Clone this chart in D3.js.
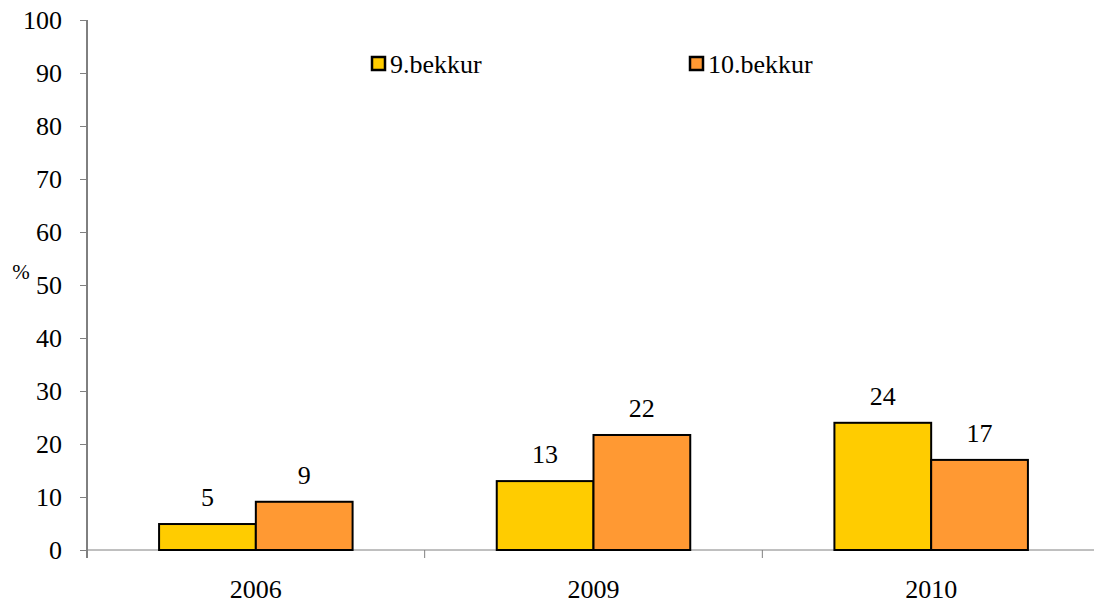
<!DOCTYPE html>
<meta charset="utf-8">
<style>
body { margin: 0; background: #fff; }
</style>
<body>
<script src="https://d3js.org/d3.v7.min.js"></script>
<script>

// data
var years = ["2006", "2009", "2010"];
var seriesNames = ["9.bekkur", "10.bekkur"];
var bekkur9 = [4.9, 13.0, 24.0];
var bekkur10 = [9.1, 21.7, 17.0];
var yTicks = [0, 10, 20, 30, 40, 50, 60, 70, 80, 90, 100];
var colors = ["#FFCC00", "#FF9933"];

var W = 1094, H = 603;
var margin = {top: 20, right: 0, bottom: 53, left: 87},
    width = 1100 - margin.left - margin.right,
    height = H - margin.top - margin.bottom;

var serif = "Liberation Serif";
var fs = 26;

var svg = d3.select("body").append("svg")
    .attr("width", W)
    .attr("height", H)
    .attr("font-family", serif)
  .append("g")
    .attr("transform", "translate(" + margin.left + "," + margin.top + ")");

var x0 = d3.scaleBand().domain(years).range([0, width]).paddingInner(0).paddingOuter(0);
var x1 = d3.scaleBand().domain(seriesNames).range([0, x0.bandwidth()]).paddingOuter(0.745).paddingInner(0);
var y = d3.scaleLinear().domain([0, 100]).range([height, 0]);

var rows = years.map(function(yr, i) {
  return {year: yr, values: [bekkur9[i], bekkur10[i]]};
});

// y axis
var yAxis = svg.append("g")
    .call(d3.axisLeft(y).tickValues(yTicks).tickSize(7).tickPadding(18))
    .attr("font-family", serif)
    .attr("font-size", fs);
yAxis.select(".domain").attr("stroke", "#000").attr("d", "M0,0V" + (height + 8));
yAxis.selectAll(".tick line").attr("stroke", "#808080");
yAxis.selectAll(".tick text")
    .attr("font-family", serif)
    .attr("font-size", fs)
    .attr("dy", "0.33em");

// x axis
var xAxis = svg.append("g")
    .attr("transform", "translate(0," + height + ")")
    .call(d3.axisBottom(x0).tickSize(0).tickPadding(30))
    .attr("font-family", serif)
    .attr("font-size", fs);
xAxis.select(".domain").attr("stroke", "#808080").attr("d", "M0,0H" + width);
xAxis.selectAll(".tick text")
    .attr("font-family", serif)
    .attr("font-size", fs);
// category separator ticks
svg.append("g").selectAll("line")
    .data(years.slice(1))
  .enter().append("line")
    .attr("x1", function(d) { return x0(d); })
    .attr("x2", function(d) { return x0(d); })
    .attr("y1", height)
    .attr("y2", height + 8)
    .attr("stroke", "#808080");

// bars
var groups = svg.selectAll(".grp")
    .data(rows)
  .enter().append("g")
    .attr("transform", function(d) { return "translate(" + x0(d.year) + ",0)"; });

groups.selectAll("rect")
    .data(function(d) { return d.values.map(function(v, i) { return {name: seriesNames[i], v: v, i: i}; }); })
  .enter().append("rect")
    .attr("x", function(d) { return x1(d.name); })
    .attr("y", function(d) { return y(d.v); })
    .attr("width", x1.bandwidth())
    .attr("height", function(d) { return height - y(d.v); })
    .attr("fill", function(d) { return colors[d.i]; })
    .attr("stroke", "#000")
    .attr("stroke-width", 2);

groups.selectAll(".lbl")
    .data(function(d) { return d.values.map(function(v, i) { return {name: seriesNames[i], v: v}; }); })
  .enter().append("text")
    .attr("class", "lbl")
    .attr("x", function(d) { return x1(d.name) + x1.bandwidth() / 2; })
    .attr("y", function(d) { return y(d.v) - 18; })
    .attr("text-anchor", "middle")
    .attr("font-family", serif)
    .attr("font-size", fs)
    .text(function(d) { return d3.format(".0f")(d.v); });

// y label
svg.append("text")
    .attr("x", -margin.left + 21)
    .attr("y", y(50) - 6)
    .attr("text-anchor", "middle")
    .attr("font-family", serif)
    .attr("font-size", 21)
    .text("%");

// legend
var legendX = [285, 603];
var legend = svg.selectAll(".legend")
    .data(seriesNames)
  .enter().append("g")
    .attr("transform", function(d, i) { return "translate(" + legendX[i] + "," + 37 + ")"; });

legend.append("rect")
    .attr("width", 13)
    .attr("height", 13)
    .attr("fill", function(d, i) { return colors[i]; })
    .attr("stroke", "#000")
    .attr("stroke-width", 2.5);

legend.append("text")
    .attr("x", 18)
    .attr("y", 16)
    .attr("font-family", serif)
    .attr("font-size", fs)
    .text(function(d) { return d; });

</script>
</body>
